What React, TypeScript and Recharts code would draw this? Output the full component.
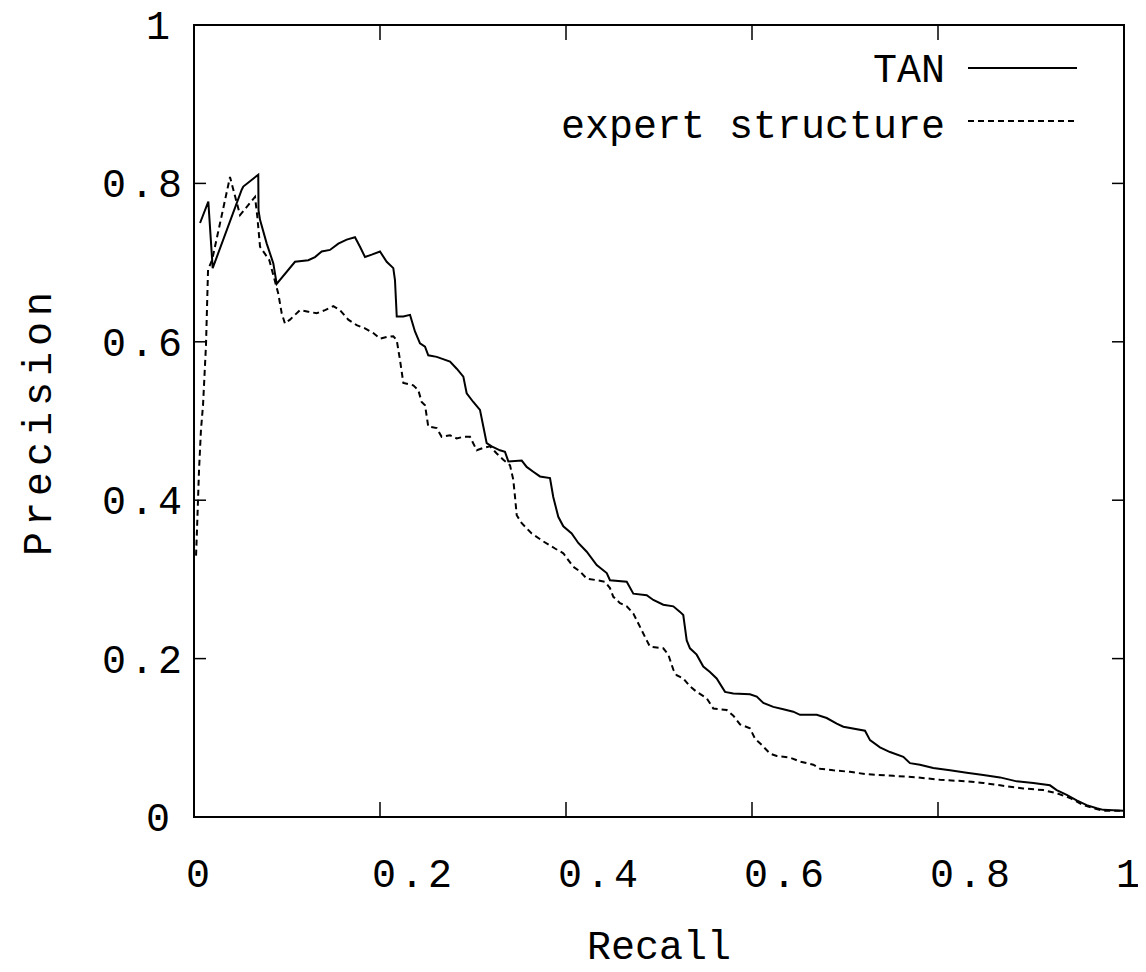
import React from "react";
import { LineChart, Line, XAxis, YAxis, ReferenceArea, Legend, Label } from "recharts";

const xTicks = [0, 0.2, 0.4, 0.6, 0.8, 1];
const xTickLabels = ["0", "0.2", "0.4", "0.6", "0.8", "1"];
const yTicks = [0, 0.2, 0.4, 0.6, 0.8, 1];
const yTickLabels = ["0", "0.2", "0.4", "0.6", "0.8", "1"];

const seriesNames = ["TAN", "expert structure"];

const tanRecall = [
  0.0065, 0.0154, 0.0201, 0.0513, 0.053, 0.0691, 0.0694, 0.071, 0.0782, 0.0853, 0.0889, 0.1086, 0.1229, 0.1301,
  0.1373, 0.1462, 0.1552, 0.1642, 0.1731, 0.1785, 0.1839, 0.1911, 0.2, 0.2072, 0.2143, 0.2161, 0.218, 0.2251,
  0.2323, 0.2376, 0.243, 0.2484, 0.2519, 0.261, 0.2753, 0.2825, 0.2896, 0.2932, 0.3003, 0.3075, 0.3111, 0.3147,
  0.3201, 0.329, 0.3344, 0.338, 0.3524, 0.3577, 0.3648, 0.372, 0.3828, 0.3863, 0.3917, 0.3971, 0.4061, 0.4132,
  0.4223, 0.433, 0.4438, 0.4473, 0.4653, 0.4724, 0.4868, 0.4939, 0.5046, 0.5154, 0.5226, 0.5261, 0.5298, 0.5333,
  0.5405, 0.5476, 0.5548, 0.562, 0.571, 0.5799, 0.5978, 0.6051, 0.6122, 0.6229, 0.6337, 0.6444, 0.6516, 0.6696,
  0.6803, 0.6911, 0.6982, 0.7215, 0.7269, 0.7376, 0.7484, 0.7627, 0.7699, 0.7806, 0.7949, 0.8129, 0.8309, 0.8487,
  0.8667, 0.8846, 0.9025, 0.9204, 0.9276, 0.9384, 0.9491, 0.9599, 0.9706, 0.9777, 0.9992,
];
const tanPrecision = [
  0.75, 0.777, 0.693, 0.792, 0.796, 0.811, 0.766, 0.754, 0.724, 0.699, 0.673, 0.701, 0.703, 0.707,
  0.714, 0.716, 0.724, 0.729, 0.732, 0.72, 0.707, 0.71, 0.714, 0.701, 0.693, 0.678, 0.632, 0.632,
  0.634, 0.613, 0.598, 0.594, 0.583, 0.581, 0.575, 0.566, 0.556, 0.535, 0.524, 0.514, 0.493, 0.472,
  0.468, 0.463, 0.461, 0.449, 0.45, 0.442, 0.436, 0.43, 0.428, 0.404, 0.379, 0.367, 0.358, 0.346,
  0.335, 0.318, 0.308, 0.299, 0.297, 0.282, 0.28, 0.274, 0.268, 0.266, 0.259, 0.255, 0.223, 0.213,
  0.205, 0.19, 0.183, 0.175, 0.158, 0.156, 0.155, 0.152, 0.144, 0.139, 0.136, 0.133, 0.129, 0.129,
  0.125, 0.118, 0.114, 0.109, 0.097, 0.088, 0.082, 0.076, 0.068, 0.066, 0.062, 0.059, 0.056, 0.053,
  0.05, 0.045, 0.043, 0.04, 0.034, 0.028, 0.021, 0.015, 0.011, 0.009, 0.008,
];

const expertRecall = [
  0.0022, 0.0032, 0.0054, 0.0075, 0.0097, 0.0129, 0.0151, 0.0194, 0.0387, 0.0495, 0.0656, 0.0681, 0.071, 0.081,
  0.0906, 0.0943, 0.0978, 0.1032, 0.114, 0.1229, 0.1319, 0.1409, 0.1498, 0.157, 0.1659, 0.1749, 0.1839, 0.1928,
  0.2, 0.2072, 0.2143, 0.218, 0.2215, 0.2251, 0.2358, 0.2412, 0.2448, 0.2484, 0.2519, 0.261, 0.2663, 0.2753,
  0.2825, 0.2896, 0.2968, 0.304, 0.3111, 0.3183, 0.3255, 0.3326, 0.3398, 0.3433, 0.3452, 0.347, 0.3524, 0.3631,
  0.3756, 0.3882, 0.3971, 0.4008, 0.4078, 0.4151, 0.4223, 0.433, 0.4419, 0.4473, 0.4509, 0.4581, 0.4653, 0.4724,
  0.4796, 0.4868, 0.4903, 0.5046, 0.51, 0.5154, 0.519, 0.5261, 0.5333, 0.5405, 0.5513, 0.5584, 0.5728, 0.5799,
  0.5871, 0.5978, 0.6032, 0.6104, 0.6194, 0.6266, 0.6409, 0.6516, 0.6659, 0.6731, 0.6874, 0.7054, 0.7233, 0.7519,
  0.7771, 0.8022, 0.8309, 0.8487, 0.8667, 0.8917, 0.9132, 0.9276, 0.9419, 0.9562, 0.9706, 0.9777, 0.9989,
];
const expertPrecision = [
  0.33, 0.362, 0.438, 0.489, 0.52, 0.596, 0.691, 0.703, 0.808, 0.76, 0.783, 0.758, 0.72, 0.703,
  0.661, 0.636, 0.623, 0.628, 0.64, 0.638, 0.636, 0.64, 0.645, 0.64, 0.628, 0.621, 0.617, 0.611,
  0.604, 0.606, 0.607, 0.602, 0.577, 0.548, 0.545, 0.539, 0.524, 0.52, 0.493, 0.491, 0.48, 0.482,
  0.478, 0.48, 0.48, 0.463, 0.466, 0.468, 0.459, 0.451, 0.444, 0.426, 0.404, 0.381, 0.371, 0.358,
  0.348, 0.339, 0.333, 0.327, 0.316, 0.31, 0.301, 0.299, 0.297, 0.289, 0.278, 0.27, 0.266, 0.257,
  0.24, 0.223, 0.215, 0.213, 0.205, 0.186, 0.179, 0.175, 0.165, 0.158, 0.15, 0.137, 0.135, 0.128,
  0.117, 0.112, 0.099, 0.091, 0.08, 0.077, 0.075, 0.07, 0.066, 0.061, 0.059, 0.057, 0.054, 0.052,
  0.05, 0.047, 0.045, 0.043, 0.04, 0.036, 0.034, 0.03, 0.024, 0.015, 0.01, 0.008, 0.008,
];

const tanData = tanRecall.map((r, i) => ({ r, p: tanPrecision[i] }));
const expertData = expertRecall.map((r, i) => ({ r, p: expertPrecision[i] }));

const FONT = "'Liberation Mono', 'DejaVu Sans Mono', monospace";
const FS = 40;
const TICK_LS = 4;
const W = 1130;
const H = 956;
const PLOT_TOP = 17;
const PLOT_LEFT = 186;
const PLOT_RIGHT = 1116;
const PLOT_BOTTOM = 809;
const XAXIS_H = 60;
const VT = 15; // vertical tick length
const HT = 12; // horizontal tick length
const DASH = "6 4";

const XTick = (props: any) => {
  const { x, y, index } = props;
  const label = xTickLabels[index] ?? "";
  const dx = label.length > 1 ? 34 : 6;
  return (
    <g>
      <line x1={x} x2={x} y1={y} y2={y - VT} stroke="#000" strokeWidth={1.5} />
      <line x1={x} x2={x} y1={PLOT_TOP} y2={PLOT_TOP + VT} stroke="#000" strokeWidth={1.5} />
      <text
        x={x + dx}
        y={y + 70}
        textAnchor="middle"
        fontFamily={FONT}
        fontSize={FS}
        letterSpacing={TICK_LS}
        fill="#000"
      >
        {label}
      </text>
    </g>
  );
};

const YTick = (props: any) => {
  const { x, y, index } = props;
  const label = yTickLabels[index] ?? "";
  const off = label.length > 1 ? 8 : 20;
  return (
    <g>
      <line x1={x} x2={x + HT} y1={y} y2={y} stroke="#000" strokeWidth={1.5} />
      <line x1={PLOT_RIGHT} x2={PLOT_RIGHT - HT} y1={y} y2={y} stroke="#000" strokeWidth={1.5} />
      <text
        x={x - off}
        y={y + 14}
        textAnchor="end"
        fontFamily={FONT}
        fontSize={FS}
        letterSpacing={TICK_LS}
        fill="#000"
      >
        {label}
      </text>
    </g>
  );
};

const LegendContent = () => {
  const rows = [
    { name: seriesNames[0], dash: undefined as string | undefined, ty: 74, ly: 60 },
    { name: seriesNames[1], dash: DASH, ty: 130, ly: 113 },
  ];
  return (
    <svg
      width={W}
      height={160}
      style={{ overflow: "visible", display: "block", position: "absolute", left: 0, top: 0 }}
    >
      {rows.map((row) => (
        <g key={row.name}>
          <text x={937} y={row.ty} textAnchor="end" fontFamily={FONT} fontSize={FS} fill="#000">
            {row.name}
          </text>
          <line x1={960} x2={1069} y1={row.ly} y2={row.ly} stroke="#000" strokeWidth={2} strokeDasharray={row.dash} />
        </g>
      ))}
    </svg>
  );
};

export default function App() {
  return (
    <div style={{ width: W, height: H, position: "relative" }}>
      <style>{`svg { overflow: visible; }`}</style>
      <LineChart
        width={W}
        height={H}
        margin={{ top: PLOT_TOP, right: W - PLOT_RIGHT, bottom: H - PLOT_BOTTOM - XAXIS_H, left: 0 }}
      >
        <XAxis
          dataKey="r"
          type="number"
          domain={[0, 1]}
          ticks={xTicks}
          allowDataOverflow
          height={XAXIS_H}
          tickSize={0}
          tickMargin={0}
          axisLine={false}
          tickLine={false}
          tick={<XTick />}
          interval={0}
        >
          <Label
            content={(p: any) => {
              const vb = p.viewBox || {};
              return (
                <text
                  x={vb.x + vb.width / 2}
                  y={PLOT_BOTTOM + 142}
                  textAnchor="middle"
                  fontFamily={FONT}
                  fontSize={FS}
                  fill="#000"
                >
                  Recall
                </text>
              );
            }}
          />
        </XAxis>
        <YAxis
          dataKey="p"
          type="number"
          domain={[0, 1]}
          ticks={yTicks}
          allowDataOverflow
          width={PLOT_LEFT}
          tickSize={0}
          tickMargin={0}
          axisLine={false}
          tickLine={false}
          tick={<YTick />}
          interval={0}
        >
          <Label
            content={(p: any) => {
              const vb = p.viewBox || {};
              const cx = 32;
              const cy = vb.y + vb.height / 2;
              return (
                <text
                  x={cx}
                  y={cy}
                  transform={`rotate(-90, ${cx}, ${cy})`}
                  textAnchor="middle"
                  dominantBaseline="central"
                  fontFamily={FONT}
                  fontSize={FS}
                  letterSpacing={6}
                  fill="#000"
                >
                  Precision
                </text>
              );
            }}
          />
        </YAxis>
        <ReferenceArea x1={0} x2={1} y1={0} y2={1} fill="none" stroke="#000" strokeWidth={2} fillOpacity={0} ifOverflow="visible" />
        <Legend
          content={<LegendContent />}
          wrapperStyle={{ position: "absolute", left: 0, top: 0, width: W, height: 0, overflow: "visible" }}
        />
        <Line
          data={tanData}
          dataKey="p"
          name={seriesNames[0]}
          type="linear"
          stroke="#000"
          strokeWidth={2}
          dot={false}
          activeDot={false}
          isAnimationActive={false}
        />
        <Line
          data={expertData}
          dataKey="p"
          name={seriesNames[1]}
          type="linear"
          stroke="#000"
          strokeWidth={2}
          strokeDasharray={DASH}
          dot={false}
          activeDot={false}
          isAnimationActive={false}
        />
      </LineChart>
    </div>
  );
}
